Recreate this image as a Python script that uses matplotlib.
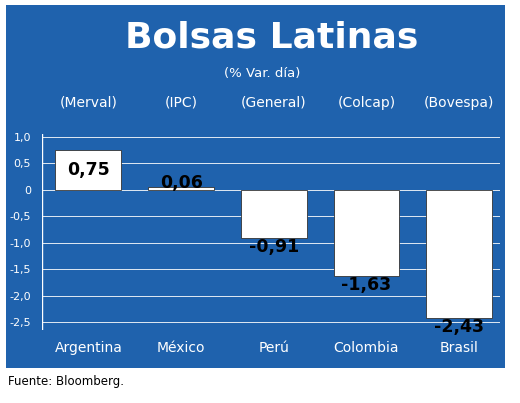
import matplotlib
matplotlib.use("Agg")
import matplotlib.pyplot as plt
from matplotlib.patches import Rectangle

countries = ["Argentina", "México", "Perú", "Colombia", "Brasil"]
indices = ["(Merval)", "(IPC)", "(General)", "(Colcap)", "(Bovespa)"]
values = [0.75, 0.06, -0.91, -1.63, -2.43]
yticks = [1.0, 0.5, 0, -0.5, -1.0, -1.5, -2.0, -2.5]
ytick_labels = ["1,0", "0,5", "0", "-0,5", "-1,0", "-1,5", "-2,0", "-2,5"]

FONT = ['DejaVu Sans']
BLUE = "#1f62ad"
W, H = 520, 403
fig = plt.figure(figsize=(5.2, 4.03), dpi=100)
bg = Rectangle((6/W, 1-368/H), 499/W, 363/H, transform=fig.transFigure,
               facecolor=BLUE, edgecolor="none", zorder=-10)
fig.patches.append(bg)
fig.text(272/W, 1-37/H, "Bolsas Latinas", color="white", fontsize=26, fontweight="bold",
         family=FONT, ha="center", va="center")
fig.text(262/W, 1-73/H, "(% Var. día)", color="white", fontsize=9.5, family=FONT, ha="center", va="center")

ax = fig.add_axes([42/W, 1-330/H, 458/W, (330-134.4)/H])
ax.patch.set_alpha(0)
x = list(range(len(values)))
ax.set_xlim(-0.5, 4.44)
ax.set_ylim(-2.65, 1.05)
for t in yticks:
    ax.axhline(t, color="white", lw=0.6, zorder=1)
ax.bar(x, values, width=0.71, color="white", edgecolor="#333333", lw=0.6, zorder=2)
for i, v in enumerate(values):
    y = v/2 if v > 0.3 else (0.13 if v >= 0 else v - 0.17)
    ax.text(i, y, f"{v:.2f}".replace(".", ","), ha="center", va="center", fontsize=12.5,
            fontweight="bold", family=FONT, color="black", zorder=3)
    ax.text(i, 1.65, indices[i], ha="center", va="center", fontsize=10, family=FONT, color="white",
            clip_on=False)
ax.set_xticks(x)
ax.set_xticklabels(countries, color="white", fontsize=10, family=FONT)
ax.set_yticks(yticks)
ax.set_yticklabels(ytick_labels, color="white", fontsize=8, family=FONT)
ax.tick_params(length=0, pad=8)
for s in ax.spines.values():
    s.set_visible(False)
ax.axvline(-0.5, color="white", lw=1)
fig.text(8/W, 1-382/H, "Fuente: Bloomberg.", fontsize=8.5, family=FONT, va="center", color="black")
fig.savefig("out.png", dpi=100)
